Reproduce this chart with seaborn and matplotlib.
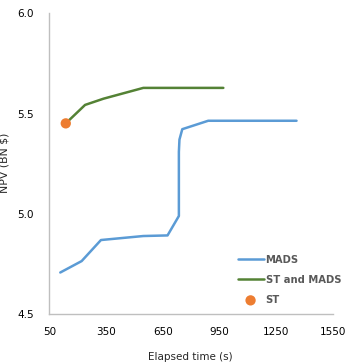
import numpy as np
import pandas as pd
import seaborn as sns
import matplotlib.pyplot as plt

# values
mads_time = [108, 221, 323, 547, 675, 735, 735, 738, 753, 890, 1357]
mads_npv = [4.707, 4.764, 4.869, 4.889, 4.892, 4.989, 5.309, 5.37, 5.422, 5.464, 5.464]

st_mads_time = [137, 239, 336, 547, 970]
st_mads_npv = [5.451, 5.543, 5.574, 5.628, 5.628]

st_time = [137]
st_npv = [5.451]

x_ticks = [50, 350, 650, 950, 1250, 1550]
y_ticks = [4.5, 5.0, 5.5, 6.0]


def draw():
    sns.set_style("white")
    plt.rcParams['font.family'] = ['DejaVu Sans']

    fig = plt.figure(figsize=(3.48, 3.62), dpi=100)
    ax = fig.add_axes([0.1417, 0.1326, 0.8153, 0.8306])

    mads = pd.DataFrame({"time": mads_time, "npv": mads_npv})
    st_mads = pd.DataFrame({"time": st_mads_time, "npv": st_mads_npv})
    st = pd.DataFrame({"time": st_time, "npv": st_npv})

    # estimator=None keeps the vertical jump at the repeated x value
    sns.lineplot(data=mads, x="time", y="npv", sort=False, estimator=None,
                 color="#5B9BD5", linewidth=1.8, label="MADS", ax=ax)
    sns.lineplot(data=st_mads, x="time", y="npv", sort=False, estimator=None,
                 color="#548235", linewidth=1.8, label="ST and MADS", ax=ax)
    sns.scatterplot(data=st, x="time", y="npv", color="#ED7D31", s=55,
                    edgecolor="none", label="ST", ax=ax, zorder=5)

    ax.set_xlim(50, 1550)
    ax.set_ylim(4.5, 6.0)
    ax.set_xticks(x_ticks)
    ax.set_yticks(y_ticks)
    ax.set_yticklabels([f"{v:.1f}" for v in y_ticks])
    ax.tick_params(axis="both", length=0, labelsize=7.5, colors="#000000")
    ax.tick_params(axis="x", pad=9.5)
    ax.tick_params(axis="y", pad=11)

    for side in ["top", "right"]:
        ax.spines[side].set_visible(False)
    for side in ["left", "bottom"]:
        ax.spines[side].set_color("#BFBFBF")
        ax.spines[side].set_linewidth(1.0)

    ax.set_xlabel("Elapsed time (s)", fontsize=7.5, color="#262626")
    ax.set_ylabel("NPV (BN $)", fontsize=7.8, color="#262626")
    ax.xaxis.set_label_coords(0.498, -0.126)
    ax.yaxis.set_label_coords(-0.142, 0.502)

    leg = ax.legend(loc="lower right", bbox_to_anchor=(1.06, 0.0), frameon=False,
                    fontsize=7.2, handlelength=2.6, handletextpad=0.2,
                    labelspacing=1.0)
    for t in leg.get_texts():
        t.set_color("#595959")
        t.set_fontweight("bold")

    fig.savefig("out.png", dpi=100)


if __name__ == '__main__':
    draw()
